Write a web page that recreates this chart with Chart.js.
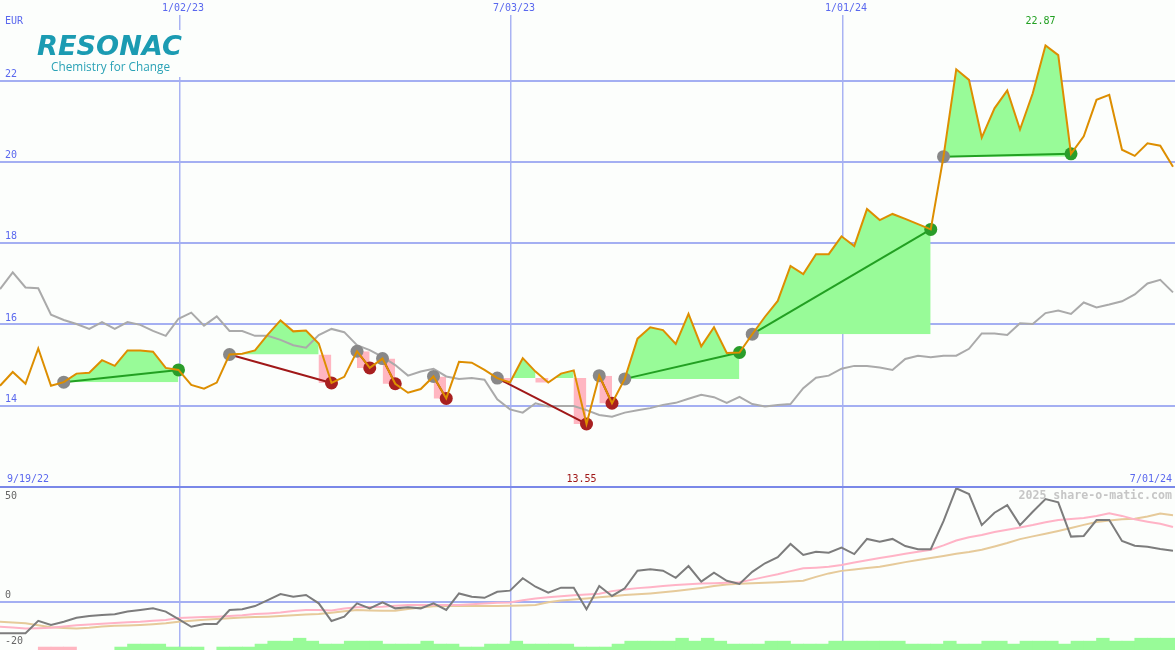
<!DOCTYPE html>
<html>
<head>
<meta charset="utf-8">
<title>Resonac</title>
<script src="https://cdn.jsdelivr.net/npm/chart.js@4.4.1/dist/chart.umd.min.js"></script>
<style>
  html, body { margin: 0; padding: 0; background: #fcfefc; }
  #wrap { position: relative; width: 1175px; height: 650px; overflow: hidden; }
  #priceChart { position: absolute; left: 0; top: 0; }
  #oscChart { position: absolute; left: 0; top: 488px; }
</style>
</head>
<body>
<div id="wrap">
  <canvas id="priceChart" width="1175" height="488"></canvas>
  <canvas id="oscChart" width="1175" height="162"></canvas>
</div>
<script>
// Weekly closes in EUR, one per week from 9/19/22 to 7/01/24
const closes = [
  14.49, 14.83, 14.54, 15.41, 14.49, 14.58, 14.79, 14.81, 15.12, 14.98,
  15.36, 15.36, 15.33, 14.93, 14.88, 14.51, 14.42, 14.57, 15.26, 15.28,
  15.36, 15.75, 16.10, 15.83, 15.85, 15.53, 14.56, 14.71, 15.34, 14.93,
  15.16, 14.54, 14.32, 14.41, 14.72, 14.18, 15.08, 15.06, 14.88, 14.68,
  14.57, 15.17, 14.84, 14.57, 14.79, 14.87, 13.55, 14.74, 14.06, 14.66,
  15.65, 15.93, 15.86, 15.52, 16.26, 15.46, 15.93, 15.30, 15.31, 15.76,
  16.19, 16.58, 17.44, 17.24, 17.73, 17.73, 18.17, 17.93, 18.84, 18.57,
  18.72, 18.60, 18.47, 18.34, 20.13, 22.28, 22.02, 20.60, 21.32, 21.76,
  20.80, 21.69, 22.87, 22.63, 20.20, 20.63, 21.53, 21.65, 20.30, 20.15,
  20.46, 20.40, 19.88
];

// Comparison index, rebased to the price scale
const benchmark = [
  16.87, 17.28, 16.91, 16.89, 16.24, 16.11, 16.01, 15.89, 16.06, 15.89,
  16.06, 15.99, 15.84, 15.72, 16.14, 16.29, 15.97, 16.20, 15.84, 15.84,
  15.72, 15.72, 15.62, 15.49, 15.43, 15.74, 15.89, 15.81, 15.49, 15.37,
  15.20, 15.00, 14.74, 14.84, 14.91, 14.72, 14.66, 14.68, 14.64, 14.16,
  13.91, 13.83, 14.06, 13.98, 13.99, 13.99, 13.89, 13.77, 13.73, 13.83,
  13.89, 13.94, 14.02, 14.07, 14.17, 14.27, 14.21, 14.07, 14.22, 14.04,
  13.98, 14.02, 14.04, 14.43, 14.69, 14.74, 14.91, 14.98, 14.98, 14.94,
  14.88, 15.15, 15.23, 15.19, 15.23, 15.23, 15.40, 15.78, 15.78, 15.74,
  16.03, 16.01, 16.28, 16.34, 16.26, 16.54, 16.42, 16.49, 16.57, 16.74,
  17.01, 17.10, 16.79
];

// Lower panel: momentum and its two averages
const momentum = [
  -13.7, -13.7, -13.7, -8.3, -10.1, -8.7, -7.0, -6.2, -5.8, -5.5,
  -4.3, -3.6, -2.9, -4.3, -7.6, -10.9, -9.7, -9.7, -3.6, -3.3,
  -1.9, 0.7, 3.3, 2.2, 2.9, -0.7, -8.4, -6.5, -0.7, -2.9,
  -0.3, -2.9, -2.4, -2.9, -0.7, -3.6, 3.6, 2.2, 1.7, 4.3,
  4.8, 10.2, 6.5, 3.9, 6.1, 6.1, -3.3, 6.8, 2.5, 5.8,
  13.5, 14.1, 13.5, 10.4, 15.5, 8.7, 12.6, 9.1, 7.7, 13.0,
  16.7, 19.4, 25.1, 20.3, 21.7, 21.3, 23.5, 20.7, 27.3, 26.1,
  27.3, 24.2, 22.8, 22.8, 35.0, 49.3, 46.8, 33.3, 38.7, 42.0,
  33.3, 39.1, 44.6, 43.2, 28.3, 28.6, 35.5, 35.5, 26.4, 24.3,
  23.9, 22.9, 22.2
];

const momentumFast = [
  -10.9, -11.2, -11.6, -11.5, -11.3, -10.8, -10.2, -9.9, -9.6, -9.3,
  -8.9, -8.7, -8.3, -8.0, -7.1, -6.9, -6.7, -6.5, -6.2, -5.9,
  -5.4, -5.1, -4.7, -4.0, -3.6, -3.6, -3.8, -3.0, -2.4, -2.3,
  -2.2, -1.8, -1.4, -1.4, -1.4, -1.4, -1.4, -1.1, -0.8, -0.5,
  -0.3, 0.6, 1.4, 1.9, 2.4, 2.8, 3.1, 3.5, 4.6, 5.3,
  5.9, 6.3, 6.8, 7.3, 7.6, 7.9, 8.0, 8.2, 8.5, 9.6,
  10.8, 11.9, 13.3, 14.5, 14.8, 15.2, 16.0, 17.0, 18.0, 19.0,
  19.9, 20.8, 21.7, 22.6, 24.5, 26.6, 28.0, 29.0, 30.3, 31.3,
  32.3, 33.3, 34.5, 35.5, 36.0, 36.4, 37.3, 38.4, 37.3, 35.8,
  34.8, 33.9, 32.5
];

const momentumSlow = [
  -8.7, -9.0, -9.4, -10.2, -11.1, -11.4, -11.6, -11.3, -10.8, -10.5,
  -10.3, -10.1, -9.8, -9.4, -8.7, -8.3, -7.9, -7.5, -7.2, -6.9,
  -6.7, -6.5, -6.2, -5.9, -5.6, -5.3, -4.8, -4.2, -3.6, -3.8,
  -3.9, -3.9, -3.2, -2.5, -2.0, -1.9, -1.9, -1.9, -1.9, -1.9,
  -1.8, -1.6, -1.4, -0.2, 0.5, 1.0, 1.4, 1.9, 2.4, 2.9,
  3.2, 3.6, 4.1, 4.7, 5.3, 6.0, 6.8, 7.5, 7.8, 8.0,
  8.2, 8.5, 8.8, 9.1, 10.8, 12.3, 13.4, 14.0, 14.6, 15.2,
  16.2, 17.2, 18.1, 19.0, 19.9, 20.8, 21.6, 22.6, 24.0, 25.5,
  27.2, 28.4, 29.5, 30.7, 32.0, 33.4, 34.6, 35.3, 35.8, 36.1,
  37.0, 38.3, 37.6
];

// Flow bars along the bottom (negative = pink)
const flowBars = [
  0, 0, 0, -1, -1, -1, 0, 0, 0, 1,
  2, 2, 2, 1, 1, 1, 0, 1, 1, 1,
  2, 3, 3, 4, 3, 2, 2, 3, 3, 3,
  2, 2, 2, 3, 2, 2, 1, 1, 2, 2,
  3, 2, 2, 2, 2, 1, 1, 1, 2, 3,
  3, 3, 3, 4, 3, 4, 3, 2, 2, 2,
  3, 3, 2, 2, 2, 3, 3, 3, 3, 3,
  3, 2, 2, 2, 3, 2, 2, 3, 3, 2,
  3, 3, 3, 2, 3, 3, 4, 3, 3, 4,
  4, 4, 4
];

// Trend signals: week where each one starts and ends
const trendStarts = [5, 18, 28, 30, 34, 39, 47, 49, 59, 74];
const trendEnds = [14, 26, 29, 31, 35, 46, 48, 58, 73, 84];

// Axis ticks
const dateTicks = [14.12, 40.08, 66.12];
const dateLabels = ['1/02/23', '7/03/23', '1/01/24'];
const firstDate = '9/19/22';
const lastDate = '7/01/24';
const priceTicks = [14, 16, 18, 20, 22];
const oscTicks = [50, 0, -20];

// Colors
const BG = '#fcfefc';
const BLUE_TEXT = '#5a68ee';
const GRID = '#a4aff2';
const GRID_DARK = '#7a88e8';
const ORANGE = '#dd8e00';
const GREY = '#aaaaaa';
const FILL_GREEN = '#98fb98';
const FILL_PINK = '#ffb6c1';
const LINE_GREEN = '#22a022';
const LINE_RED = '#a01818';
const DOT_GREY = '#888888';
const DOT_GREEN = '#2a9d2a';
const DOT_RED = '#a82020';

const xMax = 1175 / 12.75;
const pts = arr => arr.map((v, i) => ({ x: i, y: v }));

// Build fills, trend lines and dots from the signal lists
const fillSets = [];
const trendLines = [];
const dotPoints = [];
const dotColors = [];
for (let t = 0; t < trendStarts.length; t++) {
  const s = trendStarts[t];
  const e = trendEnds[t];
  const base = closes[s];
  const up = closes[e] > base;

  // green area only for weeks closing at or above the start level
  const greenData = [];
  let last = -1;
  for (let k = s + 1; k <= e; k++) {
    if (closes[k] >= base) {
      if (last !== k - 1) greenData.push({ x: k - 1, y: closes[k - 1] });
      greenData.push({ x: k, y: closes[k] });
      last = k;
    } else {
      greenData.push({ x: k - 0.5, y: null });
    }
  }
  fillSets.push({
    data: greenData,
    borderColor: 'transparent',
    borderWidth: 0,
    pointRadius: 0,
    fill: { target: { value: base }, above: FILL_GREEN, below: 'transparent' },
    order: 5
  });

  // pink steps for weeks closing below the start level
  const pinkData = [{ x: s, y: base }];
  for (let k = s + 1; k <= e; k++) {
    pinkData.push({ x: k, y: Math.min(closes[k], base) });
  }
  fillSets.push({
    data: pinkData,
    stepped: 'after',
    borderColor: 'transparent',
    borderWidth: 0,
    pointRadius: 0,
    fill: { target: { value: base }, above: 'transparent', below: FILL_PINK },
    order: 5
  });

  trendLines.push({
    data: [{ x: s, y: base }, { x: e, y: closes[e] }],
    borderColor: up ? LINE_GREEN : LINE_RED,
    borderWidth: 2,
    pointRadius: 0,
    order: 2
  });

  dotPoints.push({ x: s, y: base });
  dotColors.push(DOT_GREY);
  dotPoints.push({ x: e, y: closes[e] });
  dotColors.push(up ? DOT_GREEN : DOT_RED);
}

// Text on the price panel
const priceLabels = {
  id: 'priceLabels',
  afterDraw(chart) {
    const { ctx, scales: { x, y } } = chart;
    ctx.save();
    ctx.font = '10px "DejaVu Sans Mono"';
    ctx.textBaseline = 'middle';
    ctx.fillStyle = BLUE_TEXT;
    ctx.textAlign = 'left';
    ctx.fillText('EUR', 5, 21);
    priceTicks.forEach(v => ctx.fillText(String(v), 5, y.getPixelForValue(v) - 6.5));
    ctx.fillText(firstDate, 7, 479);
    ctx.textAlign = 'right';
    ctx.fillText(lastDate, 1172, 479);

    // date labels sit in a clear band at the top
    ctx.textAlign = 'center';
    dateTicks.forEach((v, i) => {
      const px = x.getPixelForValue(v) + 3;
      ctx.fillStyle = BG;
      ctx.fillRect(px - 24, 0, 48, 15);
      ctx.fillStyle = BLUE_TEXT;
      ctx.fillText(dateLabels[i], px, 8);
    });

    // highest and lowest close
    const hi = closes.indexOf(Math.max(...closes));
    const lo = closes.indexOf(Math.min(...closes));
    ctx.fillStyle = LINE_GREEN;
    ctx.fillText(closes[hi].toFixed(2), x.getPixelForValue(hi) - 5, 21);
    ctx.fillStyle = LINE_RED;
    ctx.fillText(closes[lo].toFixed(2), x.getPixelForValue(lo) - 5, 479);

    // logo
    ctx.fillStyle = BG;
    ctx.fillRect(34, 30, 152, 47);
    ctx.fillStyle = '#1b9bb2';
    ctx.textAlign = 'left';
    ctx.textBaseline = 'alphabetic';
    ctx.font = 'italic bold 27px "DejaVu Sans"';
    let w = ctx.measureText('RESONAC').width;
    ctx.save();
    ctx.translate(37, 55);
    ctx.scale(145 / w, 1);
    ctx.fillText('RESONAC', 0, 0);
    ctx.restore();
    ctx.fillStyle = '#2aa2b6';
    ctx.font = '12px "Open Sans"';
    w = ctx.measureText('Chemistry for Change').width;
    ctx.save();
    ctx.translate(51, 70.5);
    ctx.scale(119 / w, 1);
    ctx.fillText('Chemistry for Change', 0, 0);
    ctx.restore();
    ctx.restore();
  }
};

// Text on the lower panel
const oscLabels = {
  id: 'oscLabels',
  beforeDatasetsDraw(chart) {
    const { ctx, scales: { y } } = chart;
    ctx.save();
    ctx.font = '10px "DejaVu Sans Mono"';
    ctx.textBaseline = 'middle';
    ctx.textAlign = 'left';
    ctx.fillStyle = '#666666';
    oscTicks.forEach(v => ctx.fillText(String(v), 5, Math.max(8, y.getPixelForValue(v) - 6)));
    ctx.font = 'bold 11.6px "DejaVu Sans Mono"';
    ctx.fillStyle = '#c6c6c6';
    ctx.textAlign = 'right';
    ctx.fillText('2025 share-o-matic.com', 1172, 8);
    ctx.restore();
  }
};

// Same week axis for both panels
function weekAxis() {
  return {
    type: 'linear',
    min: 0,
    max: xMax,
    offset: false,
    afterBuildTicks: axis => { axis.ticks = dateTicks.map(v => ({ value: v })); },
    ticks: { display: false },
    border: { display: false },
    grid: { color: '#a9b3f3', lineWidth: 1.5, drawTicks: false, offset: false }
  };
}

// Price chart
const priceChart = new Chart(document.getElementById('priceChart'), {
  type: 'line',
  data: {
    datasets: [
      { label: 'Resonac', data: pts(closes), borderColor: ORANGE, borderWidth: 2, pointRadius: 0, order: 0 },
      {
        label: 'signals', data: dotPoints, showLine: false,
        pointRadius: 6.5, pointBorderWidth: 0,
        pointBackgroundColor: dotColors, pointBorderColor: dotColors, order: 1
      },
      ...trendLines,
      { label: 'index', data: pts(benchmark), borderColor: GREY, borderWidth: 2, pointRadius: 0, order: 3 },
      ...fillSets
    ]
  },
  options: {
    responsive: false,
    maintainAspectRatio: false,
    devicePixelRatio: 1,
    animation: false,
    events: [],
    layout: { autoPadding: false, padding: 0 },
    plugins: { legend: { display: false }, tooltip: { enabled: false } },
    scales: {
      x: weekAxis(),
      y: {
        type: 'linear',
        min: 11.974,
        max: 23.987,
        afterBuildTicks: axis => { axis.ticks = [12].concat(priceTicks).map(v => ({ value: v })); },
        ticks: { display: false },
        border: { display: false },
        grid: {
          color: c => (c.tick && c.tick.value === 12 ? GRID_DARK : GRID),
          lineWidth: c => (c.tick && c.tick.value === 12 ? 2.5 : 2),
          drawTicks: false
        }
      }
    }
  },
  plugins: [priceLabels]
});

// Momentum chart
const oscChart = new Chart(document.getElementById('oscChart'), {
  type: 'line',
  data: {
    datasets: [
      { label: 'momentum', data: pts(momentum), borderColor: '#7c7c7c', borderWidth: 2, pointRadius: 0, order: 0 },
      { label: 'fast', data: pts(momentumFast), borderColor: '#ffb3c6', borderWidth: 2, pointRadius: 0, order: 1 },
      { label: 'slow', data: pts(momentumSlow), borderColor: '#e6ca9a', borderWidth: 2, pointRadius: 0, order: 2 },
      {
        type: 'bar', label: 'flow up', yAxisID: 'yb', order: 3,
        data: flowBars.map((v, i) => ({ x: i + 0.5, y: v > 0 ? v : null })),
        backgroundColor: FILL_GREEN, borderWidth: 0,
        grouped: false, barPercentage: 1, categoryPercentage: 1
      },
      {
        type: 'bar', label: 'flow down', yAxisID: 'yb', order: 4,
        data: flowBars.map((v, i) => ({ x: i + 0.5, y: v < 0 ? -v : null })),
        backgroundColor: FILL_PINK, borderWidth: 0,
        grouped: false, barPercentage: 1, categoryPercentage: 1
      }
    ]
  },
  options: {
    responsive: false,
    maintainAspectRatio: false,
    devicePixelRatio: 1,
    animation: false,
    events: [],
    layout: { autoPadding: false, padding: 0 },
    plugins: { legend: { display: false }, tooltip: { enabled: false } },
    scales: {
      x: weekAxis(),
      y: {
        type: 'linear',
        min: -21.0,
        max: 49.43,
        afterBuildTicks: axis => { axis.ticks = [{ value: 0 }]; },
        ticks: { display: false },
        border: { display: false },
        grid: { color: GRID, lineWidth: 2, drawTicks: false }
      },
      yb: { type: 'linear', display: false, min: 0, max: 54.9 }
    }
  },
  plugins: [oscLabels]
});
</script>
</body>
</html>
